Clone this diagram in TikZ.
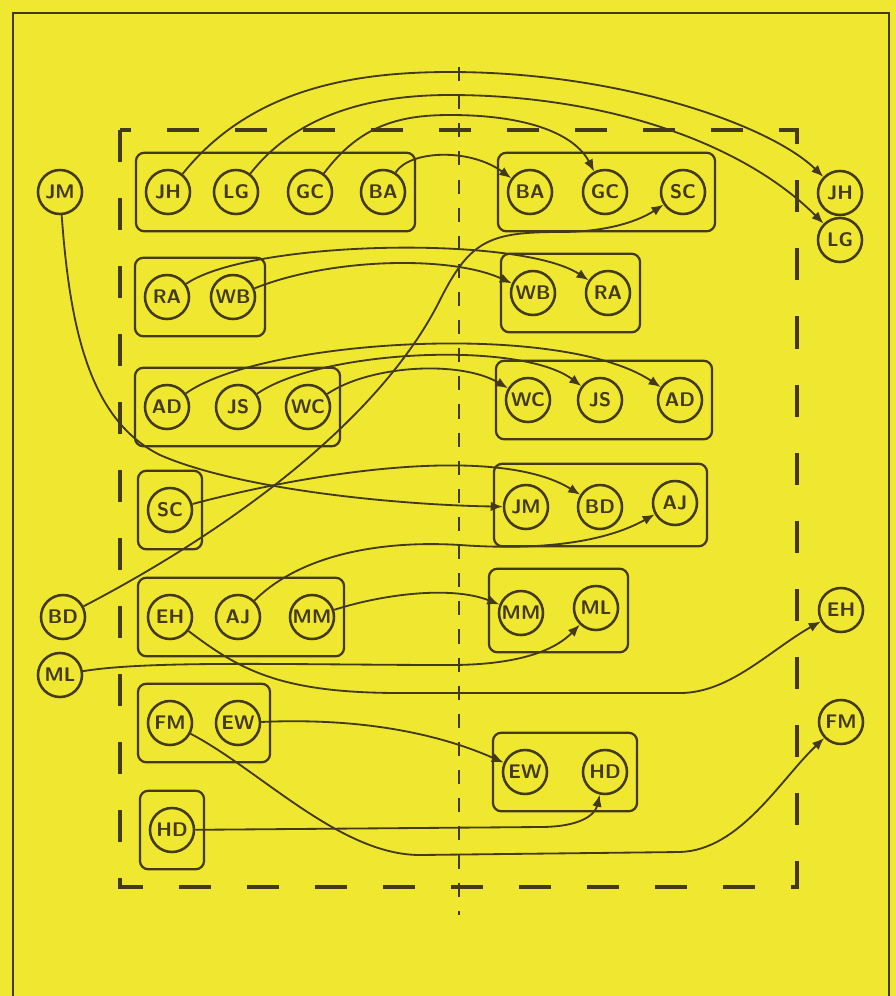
\documentclass[tikz,border=0pt]{standalone}
\usepackage{tikz}
\usetikzlibrary{arrows.meta,fit}

\definecolor{padyellow}{RGB}{240,231,48}
\definecolor{penink}{RGB}{66,58,26}

\tikzset{
  pers/.style={draw=penink,circle,line width=1.8pt,minimum size=1.1cm,inner sep=0pt,font=\sffamily\bfseries\fontsize{14}{14}\selectfont,text=penink},
  grp/.style={draw=penink,rounded corners=6pt,line width=1.6pt,inner xsep=0.22cm,inner ysep=0.4cm},
  link/.style={draw=penink,line width=1.3pt,-{Latex[length=3mm,width=2.4mm]}},
}

\begin{document}
\begin{tikzpicture}[x=0.025cm,y=-0.025cm]
\fill[padyellow] (0,0) rectangle (896,996);
\useasboundingbox (0,0) rectangle (896,996);
\draw[penink,line width=1.2pt] (13,1000)--(13,13)--(889,13)--(889,1000);
\draw[penink,line width=2.2pt,dash pattern=on 0.8cm off 0.9cm] (120,130) rectangle (797,887);
\draw[penink,line width=1pt,dash pattern=on 10pt off 10pt] (459,67)--(459,915);

% people outside
\node[pers] (o_jm) at (60,192) {JM};
\node[pers] (o_bd) at (63,617) {BD};
\node[pers] (o_ml) at (60,675) {ML};
\node[pers] (o_jh) at (840,193) {JH};
\node[pers] (o_lg) at (840,240) {LG};
\node[pers] (o_eh) at (841,610) {EH};
\node[pers] (o_fm) at (841,722) {FM};

% left half
\node[pers] (l_jh) at (168,192) {JH};
\node[pers] (l_lg) at (236,192) {LG};
\node[pers] (l_gc) at (310,192) {GC};
\node[pers] (l_ba) at (383,192) {BA};
\node[pers] (l_ra) at (167,297) {RA};
\node[pers] (l_wb) at (233,297) {WB};
\node[pers] (l_ad) at (167,407) {AD};
\node[pers] (l_js) at (238,407) {JS};
\node[pers] (l_wc) at (308,407) {WC};
\node[pers] (l_sc) at (170,510) {SC};
\node[pers] (l_eh) at (170,617) {EH};
\node[pers] (l_aj) at (238,617) {AJ};
\node[pers] (l_mm) at (312,617) {MM};
\node[pers] (l_fm) at (170,723) {FM};
\node[pers] (l_ew) at (238,723) {EW};
\node[pers] (l_hd) at (172,830) {HD};

% right half
\node[pers] (r_ba) at (530,192) {BA};
\node[pers] (r_gc) at (605,192) {GC};
\node[pers] (r_sc) at (683,192) {SC};
\node[pers] (r_wb) at (533,293) {WB};
\node[pers] (r_ra) at (608,293) {RA};
\node[pers] (r_wc) at (528,400) {WC};
\node[pers] (r_js) at (600,400) {JS};
\node[pers] (r_ad) at (680,400) {AD};
\node[pers] (r_jm) at (526,507) {JM};
\node[pers] (r_bd) at (600,507) {BD};
\node[pers] (r_aj) at (675,503) {AJ};
\node[pers] (r_mm) at (521,613) {MM};
\node[pers] (r_ml) at (596,608) {ML};
\node[pers] (r_ew) at (525,772) {EW};
\node[pers] (r_hd) at (605,772) {HD};

% groups
\node[grp,fit=(l_jh)(l_ba)] (g_l1) {};
\node[grp,fit=(l_ra)(l_wb)] (g_l2) {};
\node[grp,fit=(l_ad)(l_wc)] (g_l3) {};
\node[grp,fit=(l_sc)] (g_l4) {};
\node[grp,fit=(l_eh)(l_mm)] (g_l5) {};
\node[grp,fit=(l_fm)(l_ew)] (g_l6) {};
\node[grp,fit=(l_hd)] (g_l7) {};
\node[grp,fit=(r_ba)(r_sc)] (g_r1) {};
\node[grp,fit=(r_wb)(r_ra)] (g_r2) {};
\node[grp,fit=(r_wc)(r_ad)] (g_r3) {};
\node[grp,fit=(r_jm)(r_aj)] (g_r4) {};
\node[grp,fit=(r_mm)(r_ml)] (g_r5) {};
\node[grp,fit=(r_ew)(r_hd)] (g_r6) {};

% moves
\draw[link] (l_jh) .. controls (250,90) and (350,72) .. (450,72) .. controls (620,72) and (770,125) .. (o_jh);
\draw[link] (l_lg) .. controls (300,110) and (380,95) .. (450,95) .. controls (600,95) and (740,140) .. (o_lg);
\draw[link] (l_gc) .. controls (360,125) and (400,115) .. (450,115) .. controls (530,115) and (575,135) .. (r_gc);
\draw[link] (l_ba) .. controls (410,150) and (470,148) .. (r_ba);
\draw[link] (l_ra) .. controls (250,240) and (520,235) .. (r_ra);
\draw[link] (l_wb) .. controls (330,258) and (450,255) .. (r_wb);
\draw[link] (l_ad) .. controls (260,340) and (560,320) .. (r_ad);
\draw[link] (l_js) .. controls (320,350) and (520,340) .. (r_js);
\draw[link] (l_wc) .. controls (370,365) and (460,360) .. (r_wc);
\draw[link] (o_jm) .. controls (70,330) and (90,420) .. (160,455) .. controls (240,490) and (400,505) .. (r_jm);
\draw[link] (o_bd) .. controls (230,530) and (380,420) .. (440,300) .. controls (470,240) and (490,232) .. (560,232) .. controls (610,232) and (640,220) .. (r_sc);
\draw[link] (l_sc) .. controls (320,470) and (500,445) .. (r_bd);
\draw[link] (l_aj) .. controls (300,555) and (380,540) .. (460,545) .. controls (530,550) and (600,545) .. (r_aj);
\draw[link] (l_mm) .. controls (380,595) and (450,585) .. (r_mm);
\draw[link] (o_ml) .. controls (150,660) and (300,665) .. (450,665) .. controls (530,665) and (560,645) .. (r_ml);
\draw[link] (l_eh) .. controls (240,670) and (280,693) .. (400,693) -- (680,693) .. controls (730,693) and (770,650) .. (o_eh);
\draw[link] (l_ew) .. controls (350,718) and (430,730) .. (r_ew);
\draw[link] (l_fm) .. controls (260,770) and (340,855) .. (420,855) -- (680,852) .. controls (740,850) and (780,780) .. (o_fm);
\draw[link] (l_hd) -- (540,827) .. controls (580,827) and (595,815) .. (r_hd);
\end{tikzpicture}
\end{document}
